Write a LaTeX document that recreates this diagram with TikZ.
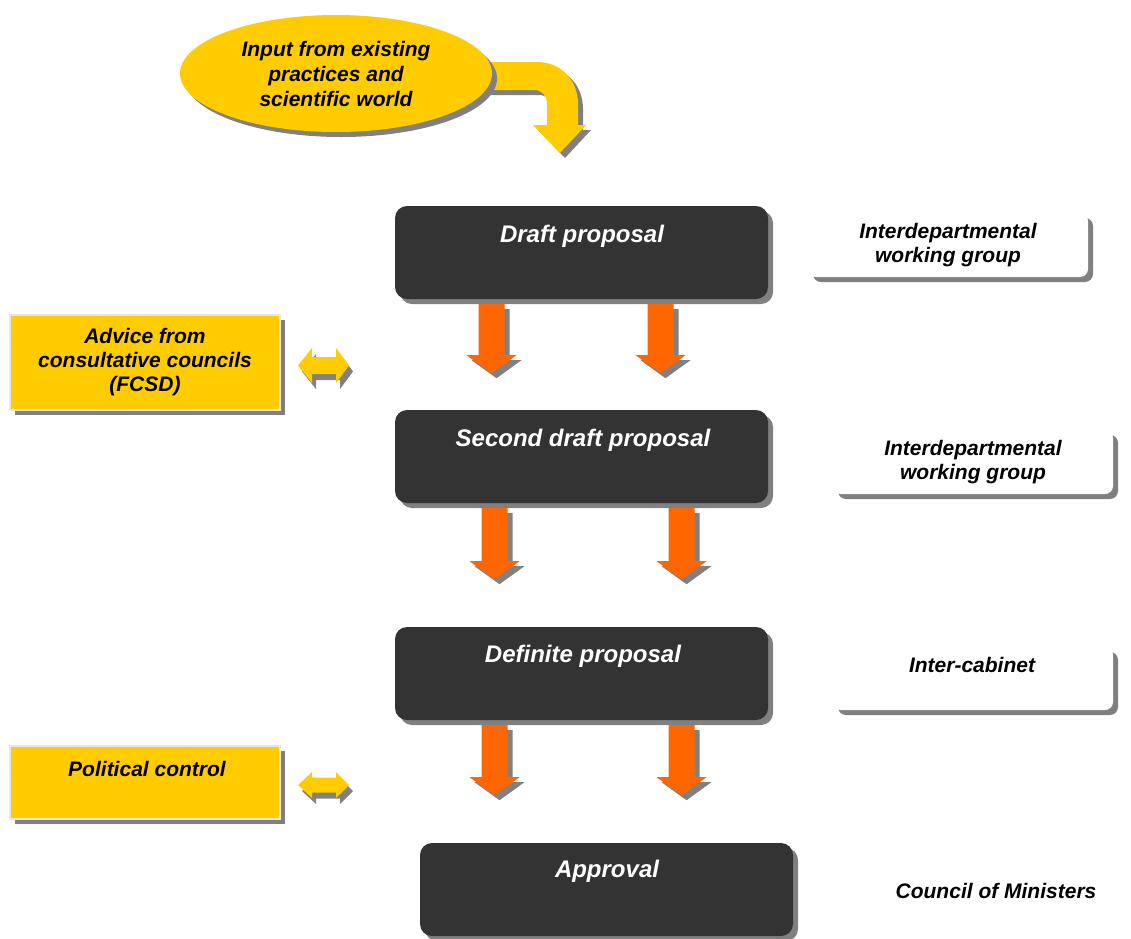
\documentclass[tikz,border=0pt]{standalone}
\usepackage{fontspec}
\setmainfont{Liberation Sans}
\usetikzlibrary{shapes.geometric,shadows,calc}
\definecolor{shadowgray}{HTML}{808080}
\definecolor{darkfill}{HTML}{333333}
\definecolor{orangefill}{HTML}{FF6600}
\definecolor{yellowfill}{HTML}{FFCC00}
\definecolor{yellowedge}{HTML}{E6E6E6}

\begin{document}
\begin{tikzpicture}[x=1pt,y=-1pt,
  boxshadow/.style={drop shadow={shadow xshift=5pt,shadow yshift=-5pt,opacity=1,fill=shadowgray}},
  flatshadow/.style={preaction={fill=shadowgray,transform canvas={xshift=5pt,yshift=-5pt}}},
  sideshadow/.style={preaction={fill=shadowgray,transform canvas={xshift=4pt,yshift=-6pt}}},
  stagebox/.style={boxshadow,fill=darkfill,rounded corners=12pt,minimum width=373pt,minimum height=93pt,inner sep=0pt},
  stagetext/.style={anchor=base,text=white,font=\fontsize{24}{28}\selectfont\bfseries\itshape},
  sidebox/.style={boxshadow,fill=yellowfill,draw=yellowedge,line width=2pt,minimum width=270pt,inner sep=0pt,align=center},
  bodytext/.style={font=\fontsize{21}{24}\selectfont\bfseries\itshape,align=center},
  groupbox/.style={boxshadow,fill=white,rounded corners=8pt,minimum width=280pt,minimum height=64pt,inner sep=0pt,align=center},
  pics/downarrow/.style={code={
    \fill[orangefill,flatshadow] (-13,0) -- (13,0) -- (13,#1) -- (25,#1) -- (0,#1+18) -- (-25,#1) -- (-13,#1) -- cycle;
  }},
  pics/sidearrow/.style 2 args={code={
    \fill[yellowfill,sideshadow] (0,0) -- (14,-#1) -- (14,-#2) -- (38,-#2) -- (38,-#1) -- (51,0)
      -- (38,#1) -- (38,#2) -- (14,#2) -- (14,#1) -- cycle;
  }}
]
\useasboundingbox (0,0) rectangle (1131,938);

% bent input arrow from the ellipse down towards the first stage
\fill[yellowfill,flatshadow] (480,62) -- (537,62) .. controls (561,62) and (578,80) .. (578,104)
  -- (578,125) -- (586,125) -- (560,153) -- (533,125) -- (547,125) -- (547,104)
  .. controls (547,96) and (542,90) .. (534,90) -- (480,90) -- cycle;

% input ellipse
\node[ellipse,boxshadow,fill=yellowfill,minimum width=312pt,minimum height=117pt,inner sep=0pt,
      font=\fontsize{21}{25}\selectfont\bfseries\itshape,align=center]
  (input) at (336,73.5) {Input from existing\\practices and\\scientific world};

% stage boxes
\node[stagebox] (draft) at (581.5,252.5) {};
\node[stagetext] (drafttxt) at (582,242) {Draft proposal};
\node[stagebox] (second) at (581.5,456.5) {};
\node[stagetext] (secondtxt) at (583,446) {Second draft proposal};
\node[stagebox] (definite) at (581.5,673.5) {};
\node[stagetext] (definitetxt) at (583,662) {Definite proposal};
\node[stagebox] (approval) at (606.5,889.5) {};
\node[stagetext] (approvaltxt) at (607,877) {Approval};

% block arrows between stages
\pic at ($(draft.south)+(-90,5)$) {downarrow=51};
\pic at ($(draft.south)+(79,5)$) {downarrow=51};
\pic at ($(second.south)+(-87,5)$) {downarrow=53};
\pic at ($(second.south)+(100,5)$) {downarrow=53};
\pic at ($(definite.south)+(-87,5)$) {downarrow=52};
\pic at ($(definite.south)+(100,5)$) {downarrow=52};

% consultation boxes on the left
\node[sidebox,minimum height=95pt,bodytext] (advice) at (145,362.5)
  {Advice from\\consultative councils\\(FCSD)};
\node[sidebox,minimum height=73pt] (political) at (145,782.5) {};
\node[bodytext] (politicaltxt) at (147,769) {Political control};

\pic at ($(advice.east)+(17,3)$) {sidearrow={17.5}{8.5}};
\pic at ($(political.east)+(17,2.5)$) {sidearrow={13}{7.5}};

% bodies involved at each stage
\node[groupbox,bodytext] (group1) at (948,245) {Interdepartmental\\working group};
\node[groupbox,bodytext] (group2) at (973,462) {Interdepartmental\\working group};
\node[groupbox,minimum height=63pt] (cabinet) at (973,678.5) {};
\node[bodytext] (cabinettxt) at (972,665) {Inter-cabinet};
\node[bodytext] (council) at (996,891) {Council of Ministers};
\end{tikzpicture}
\end{document}
